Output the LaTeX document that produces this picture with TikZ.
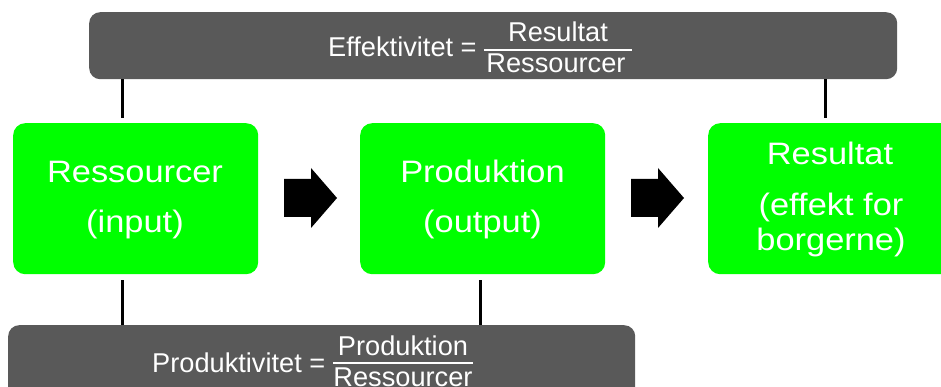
\documentclass[tikz,border=0pt]{standalone}
\usepackage{fontspec}
\setmainfont{Liberation Sans}
\definecolor{bargray}{HTML}{595959}
\definecolor{boxgreen}{HTML}{00FF00}
\newcommand{\gstretch}[1]{\scalebox{1.11}[1]{#1}}
\begin{document}
\begin{tikzpicture}[x=1pt,y=-1pt,
  bar/.style={fill=bargray,rounded corners=11pt,anchor=north west,inner sep=0pt,minimum height=67pt},
  gbox/.style={fill=boxgreen,rounded corners=12pt,anchor=north west,inner sep=0pt,minimum width=245pt,minimum height=151pt},
  gtext/.style={text=white,font=\fontsize{31}{34}\selectfont,inner sep=0pt,anchor=base},
  btext/.style={text=white,font=\fontsize{27.2}{28}\selectfont,inner sep=0pt,anchor=base},
  fracline/.style={white,line width=1.8pt},
  conn/.style={line width=3pt,black},
  blockarrow/.style={fill=black}]
\useasboundingbox (0,0) rectangle (941,387);
\clip (0,0) rectangle (941,387);
% bars
\node[bar,minimum width=808pt] (eff) at (89,12) {};
\node[bar,minimum width=627pt,minimum height=75pt] (prod) at (8,325) {};
% boxes
\node[gbox] (b1) at (13,123) {};
\node[gbox] (b2) at (360,123) {};
\node[gbox] (b3) at (708,123) {};
% box texts
\node[gtext] (t1a) at (135,183) {\gstretch{Ressourcer}};
\node[gtext] (t1b) at (135,233) {\gstretch{(input)}};
\node[gtext] (t2a) at (482.5,183) {\gstretch{Produktion}};
\node[gtext] (t2b) at (482.5,233) {\gstretch{(output)}};
\node[gtext] (t3a) at (830,165) {\gstretch{Resultat}};
\node[gtext] (t3b) at (831,216) {\gstretch{(effekt for}};
\node[gtext] (t3c) at (831,250) {\gstretch{borgerne)}};
% bar texts
\node[btext,anchor=base west] (effl) at (328,57) {Effektivitet =};
\node[btext] (effn) at (558,42) {Resultat};
\node[btext] (effd) at (556,73) {Ressourcer};
\draw[fracline] (484,50) -- (632,50);
\node[btext,anchor=base west] (prodl) at (152,372) {Produktivitet =};
\node[btext] (prodn) at (403,355) {Produktion};
\node[btext] (prodd) at (403,386) {Ressourcer};
\draw[fracline] (333,363) -- (473,363);
% connectors
\coordinate (xa) at (122,0);
\coordinate (xb) at (825,0);
\coordinate (xc) at (480,0);
\draw[conn,shorten >=5pt] (eff.south -| xa) -- (b1.north -| xa);
\draw[conn,shorten >=5pt] (eff.south -| xb) -- (b3.north -| xb);
\draw[conn,shorten <=6pt] (b1.south -| xa) -- (prod.north -| xa);
\draw[conn,shorten <=6pt] (b2.south -| xc) -- (prod.north -| xc);
% block arrows
\fill[blockarrow] (284,179) -- (311,179) -- (311,168) -- (337,198) -- (311,228) -- (311,217) -- (284,217) -- cycle;
\fill[blockarrow] (631,179) -- (658,179) -- (658,168) -- (684,198) -- (658,228) -- (658,217) -- (631,217) -- cycle;
\end{tikzpicture}
\end{document}
